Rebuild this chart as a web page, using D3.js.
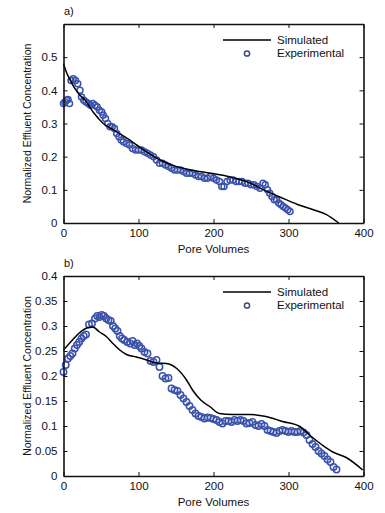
<!DOCTYPE html>
<html>
<head>
<meta charset="utf-8">
<script src="https://cdn.jsdelivr.net/npm/d3@7"></script>
<style>
  body { margin: 0; background: #fff; }
  svg { display: block; font-family: "Liberation Sans", Arial, sans-serif; }
  .axis path, .axis line { stroke: #111; }
  .axis text { fill: #111; font-size: 11.5px; }
</style>
</head>
<body>
<svg id="chart" width="385" height="513"></svg>
<script>
// panel a) data
const simA_x = [0, 3, 9, 20, 29, 40, 53, 67, 85, 107, 129, 151, 170, 196, 220, 245, 267, 290, 312, 333, 350, 367];
const simA_y = [0.48, 0.46, 0.43, 0.39, 0.37, 0.333, 0.30, 0.28, 0.255, 0.22, 0.19, 0.17, 0.16, 0.15, 0.14, 0.124, 0.10, 0.077, 0.056, 0.04, 0.026, 0.0];
const expA_x = [0, 2, 4, 6, 8, 10, 13, 16, 19, 22, 24, 27, 30, 33, 36, 39, 42, 45, 48, 51, 53, 56, 59, 62, 65, 68, 71, 74, 77, 80,
  84, 88, 92, 96, 100, 104, 108, 112, 116, 120, 124, 128, 132, 136, 140, 144, 148, 152, 156, 160, 164, 168, 172, 176, 180,
  184, 188, 192, 196, 200, 204, 208, 211, 214, 218, 222, 226, 230, 234, 238, 242, 246, 250, 254, 258, 262, 266, 269, 272,
  275, 278, 281, 284, 287, 290, 293, 296, 299, 302];
const expA_y = [0.36, 0.365, 0.37, 0.372, 0.36, 0.43, 0.435, 0.43, 0.42, 0.40, 0.38, 0.37, 0.365, 0.36, 0.355, 0.36, 0.355, 0.35, 0.34, 0.335, 0.325, 0.315, 0.30, 0.29, 0.29, 0.285,
  0.27, 0.26, 0.25, 0.245, 0.24, 0.235, 0.225, 0.22, 0.22, 0.22, 0.215, 0.21, 0.205, 0.20, 0.19, 0.18, 0.18, 0.175, 0.17, 0.165, 0.16, 0.16, 0.16, 0.155, 0.15,
  0.15, 0.15, 0.145, 0.14, 0.14, 0.135, 0.135, 0.14, 0.135, 0.13, 0.125, 0.11, 0.11, 0.125, 0.13, 0.13, 0.125, 0.125, 0.125, 0.12, 0.12, 0.115, 0.115,
  0.11, 0.105, 0.12, 0.115, 0.10, 0.09, 0.08, 0.07, 0.07, 0.06, 0.055, 0.05, 0.045, 0.04, 0.035];

// panel b) data
const simB_x = [0, 12, 21, 31, 39, 48, 57, 66, 75, 84, 97, 111, 124, 137, 151, 164, 172, 183, 195, 208, 225, 248, 270, 292, 315, 328, 345, 359, 377, 399];
const simB_y = [0.252, 0.272, 0.286, 0.296, 0.298, 0.288, 0.279, 0.265, 0.252, 0.243, 0.238, 0.232, 0.226, 0.225, 0.215, 0.192, 0.172, 0.152, 0.139, 0.125, 0.123, 0.123, 0.119, 0.109, 0.099, 0.082, 0.062, 0.048, 0.037, 0.012];
const expB_x = [0, 3, 6, 9, 12, 15, 18, 21, 24, 27, 30, 34, 38, 42, 45, 48, 51, 54, 57, 60, 63, 66, 69, 72, 75, 78, 81, 85, 89, 92,
  95, 98, 101, 104, 108, 112, 116, 120, 124, 128, 132, 136, 140, 144, 148, 152, 156, 160, 164, 168, 172, 176, 180, 184, 188,
  192, 196, 200, 204, 208, 212, 216, 220, 224, 228, 232, 236, 240, 244, 248, 252, 256, 260, 264, 268, 272, 276, 280, 284,
  288, 292, 296, 300, 304, 308, 312, 316, 320, 324, 328, 332, 336, 340, 344, 348, 352, 356, 360, 364];
const expB_y = [0.208, 0.222, 0.235, 0.24, 0.245, 0.255, 0.262, 0.268, 0.275, 0.28, 0.283, 0.303, 0.305, 0.315, 0.32, 0.318, 0.322, 0.32, 0.315, 0.312, 0.31, 0.30,
  0.295, 0.29, 0.28, 0.275, 0.272, 0.268, 0.265, 0.27, 0.262, 0.265, 0.26, 0.255, 0.248, 0.245, 0.23, 0.228, 0.232, 0.218, 0.20, 0.195, 0.196, 0.175, 0.172,
  0.17, 0.162, 0.155, 0.148, 0.14, 0.132, 0.125, 0.12, 0.118, 0.115, 0.117, 0.116, 0.114, 0.112, 0.108, 0.105, 0.11, 0.11, 0.108, 0.112, 0.11, 0.112,
  0.11, 0.105, 0.106, 0.108, 0.102, 0.10, 0.104, 0.10, 0.092, 0.09, 0.088, 0.086, 0.09, 0.092, 0.09, 0.088, 0.09, 0.088, 0.088, 0.09, 0.087, 0.082,
  0.072, 0.064, 0.058, 0.05, 0.045, 0.04, 0.033, 0.028, 0.018, 0.013];

const xTicks = [0, 100, 200, 300, 400];
const yTicksA = [0, 0.1, 0.2, 0.3, 0.4, 0.5];
const yTicksB = [0, 0.05, 0.1, 0.15, 0.2, 0.25, 0.3, 0.35, 0.4];
const legendLabels = ['Simulated', 'Experimental'];

const svg = d3.select('#chart');
const markerColor = '#3a52ab';

function fmt(d) {
  return d === 0 ? '0' : String(+d.toFixed(2));
}

function drawPanel(opt) {
  const left = 63.5, right = 363.5;
  const x = d3.scaleLinear().domain([0, 400]).range([left, right]);
  const y = d3.scaleLinear().domain([0, opt.ymax]).range([opt.bottom, opt.top]);
  const g = svg.append('g');

  // experimental circles
  const pts = opt.ex.map((v, i) => [v, opt.ey[i]]);
  g.append('g').selectAll('circle')
    .data(pts)
    .join('circle')
    .attr('cx', d => x(d[0]))
    .attr('cy', d => y(d[1]))
    .attr('r', opt.r)
    .attr('fill', 'none')
    .attr('stroke', markerColor)
    .attr('stroke-width', 1.5);

  // simulated line
  const line = d3.line().x(d => x(d[0])).y(d => y(d[1])).curve(d3.curveMonotoneX);
  g.append('path')
    .datum(opt.sx.map((v, i) => [v, opt.sy[i]]))
    .attr('d', line)
    .attr('fill', 'none')
    .attr('stroke', '#000')
    .attr('stroke-width', 1.5);

  // axes, ticks pointing inward
  g.append('g').attr('class', 'axis')
    .attr('transform', `translate(0,${opt.bottom})`)
    .call(d3.axisBottom(x).tickValues(xTicks).tickSize(-4).tickSizeOuter(0).tickPadding(6))
    .call(a => a.select('.domain').attr('stroke-width', 1.6));
  g.append('g').attr('class', 'axis')
    .attr('transform', `translate(0,${opt.top})`)
    .call(d3.axisTop(x).tickValues(xTicks).tickSize(-4).tickSizeOuter(0).tickFormat(''))
    .call(a => a.select('.domain').attr('stroke-width', 1.6));
  g.append('g').attr('class', 'axis')
    .attr('transform', `translate(${left},0)`)
    .call(d3.axisLeft(y).tickValues(opt.yticks).tickSize(-4).tickSizeOuter(0).tickPadding(6).tickFormat(fmt))
    .call(a => a.select('.domain').attr('stroke-width', 1.6));
  g.append('g').attr('class', 'axis')
    .attr('transform', `translate(${right},0)`)
    .call(d3.axisRight(y).tickValues(opt.yticks).tickSize(-4).tickSizeOuter(0).tickFormat(''))
    .call(a => a.select('.domain').attr('stroke-width', 1.6));

  // labels
  g.append('text')
    .attr('x', (left + right) / 2)
    .attr('y', opt.bottom + 30)
    .attr('text-anchor', 'middle')
    .attr('font-size', 11.5)
    .attr('fill', '#111')
    .text('Pore Volumes');
  g.append('text')
    .attr('transform', `translate(31,${(opt.top + opt.bottom) / 2}) rotate(-90)`)
    .attr('text-anchor', 'middle')
    .attr('font-size', 10.5)
    .attr('fill', '#111')
    .text('Normalized Effluent Concentration');
  g.append('text')
    .attr('x', 64)
    .attr('y', opt.top - 9)
    .attr('font-size', 11)
    .attr('fill', '#111')
    .text(opt.tag);

  // legend
  const ly = opt.top + 16;
  g.append('line')
    .attr('x1', 223).attr('x2', 271)
    .attr('y1', ly).attr('y2', ly)
    .attr('stroke', '#000').attr('stroke-width', 1.5);
  g.append('circle')
    .attr('cx', 247).attr('cy', ly + 13.5)
    .attr('r', 2.6)
    .attr('fill', 'none')
    .attr('stroke', '#3d4a80')
    .attr('stroke-width', 1.5);
  g.selectAll('.leg')
    .data(legendLabels)
    .join('text')
    .attr('x', 277)
    .attr('y', (d, i) => ly + 4 + i * 13)
    .attr('font-size', 11.5)
    .attr('fill', '#111')
    .text(d => d);
}

drawPanel({ top: 24, bottom: 223, ymax: 0.6, yticks: yTicksA, sx: simA_x, sy: simA_y, ex: expA_x, ey: expA_y, r: 3, tag: 'a)' });
drawPanel({ top: 276, bottom: 476, ymax: 0.4, yticks: yTicksB, sx: simB_x, sy: simB_y, ex: expB_x, ey: expB_y, r: 3.2, tag: 'b)' });
</script>
</body>
</html>
